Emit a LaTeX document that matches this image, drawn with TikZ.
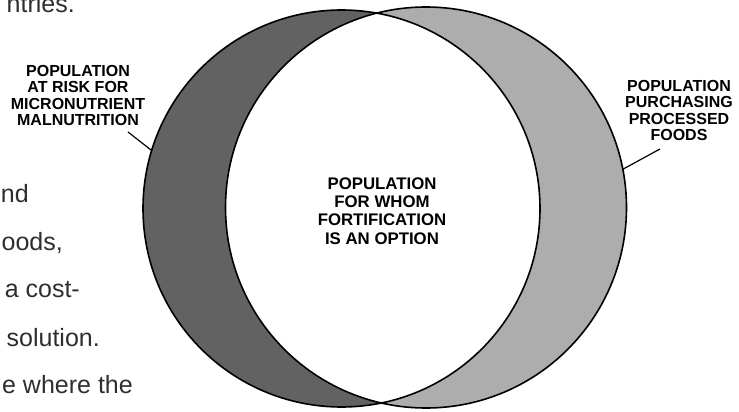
\documentclass[tikz,border=0pt]{standalone}
\usepackage{fontspec}
\setmainfont{Liberation Sans}
\definecolor{darkring}{HTML}{626262}
\definecolor{lightring}{HTML}{ADADAD}
\definecolor{bodygray}{HTML}{2E2E2E}
\begin{document}
\begin{tikzpicture}[x=1pt,y=-1pt,
  lab/.style={font=\fontsize{16}{16.5}\selectfont\bfseries, align=center, inner sep=0pt},
  midlab/.style={font=\fontsize{16.8}{18.3}\selectfont\bfseries, align=center, inner sep=0pt},
  body/.style={font=\fontsize{25}{30}\selectfont, text=bodygray, anchor=base east, inner sep=0pt},
  ring/.style={circle, inner sep=0pt, outer sep=0pt},
  outline/.style={draw=black, line width=1.6pt},
  leader/.style={draw=black, line width=1.2pt}]
\useasboundingbox (0,0) rectangle (739,412);
% body text fragments
\node[body] (t1) at (75,13) {ntries.};
\node[body] (t2) at (29,202) {nd};
\node[body] (t3) at (63,250) {oods,};
\node[body] (t4) at (80,297) {a cost-};
\node[body] (t5) at (100,346) {solution.};
\node[body] (t6) at (133,393) {e where the};
% circles
\node[ring, fill=darkring, minimum size=397pt] (L) at (341.5,208.5) {};
\node[ring, fill=lightring, minimum size=401pt] (R) at (426,207.5) {};
\begin{scope}
  \clip (L.center) circle[radius=198.5pt];
  \fill[white] (R.center) circle[radius=200.5pt];
\end{scope}
\draw[outline] (L.center) circle[radius=198.5pt];
\draw[outline] (R.center) circle[radius=200.5pt];
% labels
\node[lab] (ll) at (78,95.5) {POPULATION\\AT RISK FOR\\MICRONUTRIENT\\MALNUTRITION};
\node[lab] (rl) at (679,110.5) {POPULATION\\PURCHASING\\PROCESSED\\FOODS};
\node[midlab] (ml) at (382,211) {POPULATION\\FOR WHOM\\FORTIFICATION\\IS AN OPTION};
% leaders
\coordinate (la) at (128,132);
\coordinate (ra) at (660,149);
\draw[leader] (la) -- (L.163.6);
\draw[leader] (ra) -- (R.11.3);
\end{tikzpicture}
\end{document}
